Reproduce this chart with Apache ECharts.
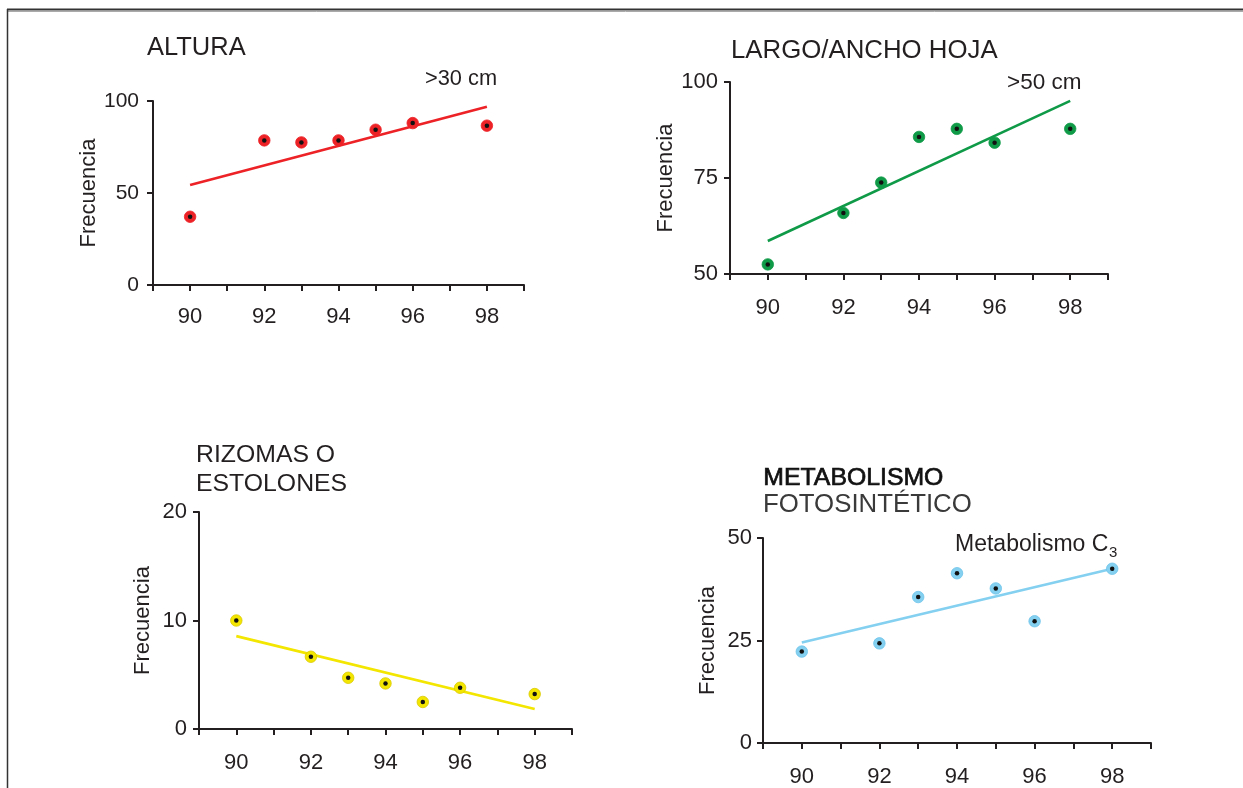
<!DOCTYPE html>
<html>
<head>
<meta charset="utf-8">
<script src="https://cdn.jsdelivr.net/npm/echarts@6/dist/echarts.min.js"></script>
<style>
  html, body { margin: 0; padding: 0; background: #fff; }
  #chart { width: 1243px; height: 788px; }
</style>
</head>
<body>
<div id="chart"></div>
<script>
// ---- data ----
var years = [90, 92, 93, 94, 95, 96, 98];
var xLabelValues = [90, 92, 94, 96, 98];

var alturaVals = [37.1, 78.6, 77.5, 78.6, 84.4, 88.0, 86.6];
var alturaTrend = [54.3, 96.9];          // fitted line at 90 and 98

var largoVals = [52.5, 65.9, 73.8, 85.7, 87.8, 84.2, 87.8];
var largoTrend = [58.6, 95.1];

var rizomasVals = [10.0, 6.66, 4.72, 4.2, 2.49, 3.8, 3.22];
var rizomasTrend = [8.56, 1.84];

var metabVals = [22.3, 24.3, 35.6, 41.4, 37.7, 29.7, 42.5];
var metabTrend = [24.5, 42.5];

var trendX = [90, 98];

var panelTitles = ['ALTURA', 'LARGO/ANCHO HOJA', 'RIZOMAS O', 'ESTOLONES', 'METABOLISMO', 'FOTOSINTÉTICO'];
var yName = 'Frecuencia';

// ---- styling ----
var FONT = '"Liberation Sans", Arial, sans-serif';
var TXT = '#231f20';
var AX = '#231f20';
var colors = ['#ec2227', '#0f9a48', '#f3e600', '#84d0f0'];
var ringColors = ['#ec2227', '#0f9a48', '#d9c900', '#6cc3ea'];

var grids = [
  { left: 153, top: 101, width: 371, height: 184 },
  { left: 730, top: 82,  width: 378, height: 192 },
  { left: 199, top: 512, width: 373, height: 217 },
  { left: 763, top: 538, width: 388, height: 206 }
];
var yRanges = [
  { min: 0, max: 100, interval: 50 },
  { min: 50, max: 100, interval: 25 },
  { min: 0, max: 20, interval: 10 },
  { min: 0, max: 50, interval: 25 }
];
var yLabelSize = [21, 22, 22, 22];
var yLabelMargin = [14, 12, 12, 11];
var yNameGap = [53, 51, 45, 44];
var xLabelMargin = [21, 23, 23, 23];
var valsList = [alturaVals, largoVals, rizomasVals, metabVals];
var trendList = [alturaTrend, largoTrend, rizomasTrend, metabTrend];

var xAxes = [], yAxes = [], series = [];
grids.forEach(function (g, i) {
  xAxes.push({
    type: 'value', gridIndex: i, min: 89, max: 99, interval: 1,
    splitLine: { show: false },
    axisLine: { show: true, lineStyle: { color: AX, width: 2 } },
    axisTick: { show: true, length: 6, lineStyle: { color: AX, width: 2 } },
    axisLabel: {
      color: TXT, fontFamily: FONT, fontSize: 22, margin: xLabelMargin[i],
      formatter: function (v) { return xLabelValues.indexOf(v) >= 0 ? String(v) : ''; }
    }
  });
  yAxes.push({
    type: 'value', gridIndex: i,
    min: yRanges[i].min, max: yRanges[i].max, interval: yRanges[i].interval,
    name: yName, nameLocation: 'middle', nameRotate: 90, nameGap: yNameGap[i],
    nameTextStyle: { color: TXT, fontFamily: FONT, fontSize: 22 },
    splitLine: { show: false },
    axisLine: { show: true, lineStyle: { color: AX, width: 2 } },
    axisTick: { show: true, length: 6, lineStyle: { color: AX, width: 2 } },
    axisLabel: { color: TXT, fontFamily: FONT, fontSize: yLabelSize[i], margin: yLabelMargin[i] }
  });
  var pts = years.map(function (x, k) { return [x, valsList[i][k]]; });
  var tline = trendX.map(function (x, k) { return [x, trendList[i][k]]; });
  series.push({
    type: 'line', xAxisIndex: i, yAxisIndex: i, data: tline,
    showSymbol: false, symbol: 'none', silent: true, z: 2,
    lineStyle: { color: colors[i], width: 2.6 }
  });
  series.push({
    type: 'scatter', xAxisIndex: i, yAxisIndex: i, data: pts,
    symbol: 'circle', symbolSize: 11.5, z: 3,
    itemStyle: { color: colors[i], borderColor: ringColors[i], borderWidth: 0.8, opacity: 1 }
  });
  series.push({
    type: 'scatter', xAxisIndex: i, yAxisIndex: i, data: pts,
    symbol: 'circle', symbolSize: 4.5, z: 4,
    itemStyle: { color: '#111', opacity: 1 }
  });
});

function txt(x, y, s, size, extra) {
  var st = { text: s, x: 0, y: 0, fill: TXT, font: size + 'px ' + FONT, textVerticalAlign: 'alphabetic' };
  if (extra) for (var k in extra) st[k] = extra[k];
  return { type: 'text', left: x, top: y, style: st, z: 10 };
}

var graphics = [
  // frame
  { type: 'line', shape: { x1: 7, y1: 9.5, x2: 1243, y2: 9.5 }, style: { stroke: '#333', lineWidth: 2 } },
  { type: 'line', shape: { x1: 8, y1: 11.5, x2: 1243, y2: 11.5 }, style: { stroke: '#aaa', lineWidth: 1 } },
  { type: 'line', shape: { x1: 7.5, y1: 9, x2: 7.5, y2: 788 }, style: { stroke: '#333', lineWidth: 1.5 } },
  // titles
  txt(147, 35, panelTitles[0], 25.5),
  txt(731, 38, panelTitles[1], 25.8),
  txt(196, 443, panelTitles[2], 24.8),
  txt(196, 472, panelTitles[3], 24.8),
  txt(763, 465, panelTitles[4], 24.8, { fill: '#111', stroke: '#111', lineWidth: 0.7 }),
  txt(763, 492, panelTitles[5], 25.8, { fill: '#3a3a3a' }),
  // annotations
  txt(425, 68, '>30 cm', 21.8),
  txt(1007, 71, '>50 cm', 22.5),
  txt(955, 533, 'Metabolismo C', 23),
  txt(1109, 545, '3', 15)
];

var chart = echarts.init(document.getElementById('chart'), null, { renderer: 'canvas' });
chart.setOption({
  animation: false,
  backgroundColor: '#ffffff',
  grid: grids.map(function (g) { return { left: g.left, top: g.top, width: g.width, height: g.height, containLabel: false }; }),
  xAxis: xAxes,
  yAxis: yAxes,
  series: series,
  graphic: graphics
});
</script>
</body>
</html>
